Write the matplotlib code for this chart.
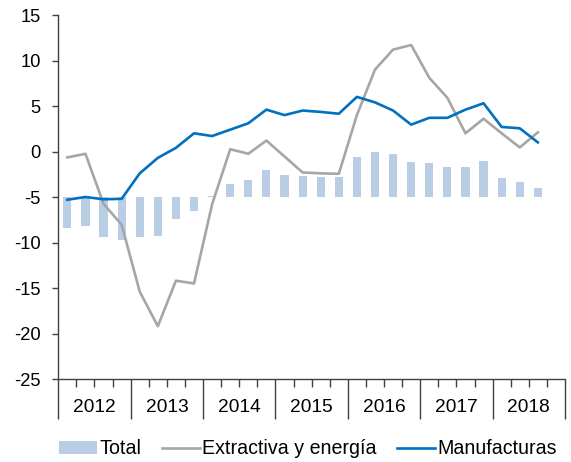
import numpy as np
import matplotlib
matplotlib.use("Agg")
import matplotlib.pyplot as plt
from matplotlib.transforms import blended_transform_factory
from matplotlib.patches import Patch
from matplotlib.lines import Line2D

plt.rcParams['font.family'] = ['Liberation Sans', 'DejaVu Sans']

years = ['2012', '2013', '2014', '2015', '2016', '2017', '2018']

# Quarterly values 2012Q1 .. 2018Q3
total = [-3.4, -3.2, -4.45, -4.7, -4.45, -4.3, -2.45, -1.5,
         0.1, 1.4, 1.9, 3.0, 2.4, 2.35, 2.25, 2.2,
         4.45, 4.9, 4.75, 3.85, 3.7, 3.3, 3.3, 4.0,
         2.05, 1.6, 1.0]
extractiva = [-0.65, -0.25, -5.75, -8.05, -15.4, -19.2, -14.2, -14.5,
              -5.8, 0.25, -0.25, 1.2, -0.55, -2.3, -2.4, -2.45,
              4.0, 9.0, 11.2, 11.7, 8.1, 5.9, 2.0, 3.6,
              2.0, 0.45, 2.1]
manufacturas = [-5.3, -5.0, -5.25, -5.2, -2.4, -0.7, 0.4, 2.0,
                1.7, 2.4, 3.1, 4.6, 4.0, 4.5, 4.35, 4.15,
                6.0, 5.4, 4.5, 2.95, 3.7, 3.7, 4.6, 5.3,
                2.7, 2.55, 1.0]

bar_base = -5
yticks = [15, 10, 5, 0, -5, -10, -15, -20, -25]

fig = plt.figure(figsize=(5.71, 4.62), dpi=100)
ax = fig.add_axes([58.3 / 571, 1 - 379 / 462, (565 - 58.3) / 571, (379 - 15) / 462])

n = len(total)
x = np.arange(n) + 0.5

ax.bar(x, total, bottom=bar_base, width=0.45, color='#B9CDE5', zorder=1)
ax.plot(x, extractiva, color='#A6A6A6', lw=1.9, zorder=2)
ax.plot(x, manufacturas, color='#0070C0', lw=1.9, zorder=3)

nq = 4 * len(years)
ax.set_xlim(0, nq)
ax.set_ylim(-25, 15)
ax.set_yticks(yticks)
ax.set_yticklabels([str(v) for v in yticks])

for s in ['top', 'right']:
    ax.spines[s].set_visible(False)
for s in ['left', 'bottom']:
    ax.spines[s].set_color('#404040')
    ax.spines[s].set_linewidth(1.0)

ax.tick_params(axis='y', direction='out', length=4.5, width=1.0, color='#404040',
               labelsize=13.2, pad=8, labelcolor='black')

major = np.arange(0, nq + 1, 4)
minor = [q for q in range(nq) if q % 4 != 0]
ax.set_xticks(major)
ax.set_xticks(minor, minor=True)
ax.set_xticklabels([])
ax.tick_params(axis='x', which='major', direction='out', length=29, width=1.0, color='#404040')
ax.tick_params(axis='x', which='minor', direction='out', length=6, width=1.0, color='#404040')

trans = blended_transform_factory(ax.transData, ax.transAxes)
for i, yr in enumerate(years):
    ax.text(4 * i + 2, -0.078, yr, transform=trans, ha='center', va='center',
            fontsize=13.8, color='black')

handles = [Patch(facecolor='#B9CDE5', edgecolor='none'),
           Line2D([], [], color='#A6A6A6', lw=1.9),
           Line2D([], [], color='#0070C0', lw=1.9)]
labels = ['Total', 'Extractiva y energía', 'Manufacturas']
leg = fig.legend(handles, labels, loc='center', bbox_to_anchor=(308 / 571, 1 - 449 / 462),
                 ncol=3, frameon=False, fontsize=14.1, handlelength=1.95, handleheight=0.6,
                 handletextpad=0.1, columnspacing=1.05, borderpad=0.2)

fig.savefig('out.png', dpi=100)
